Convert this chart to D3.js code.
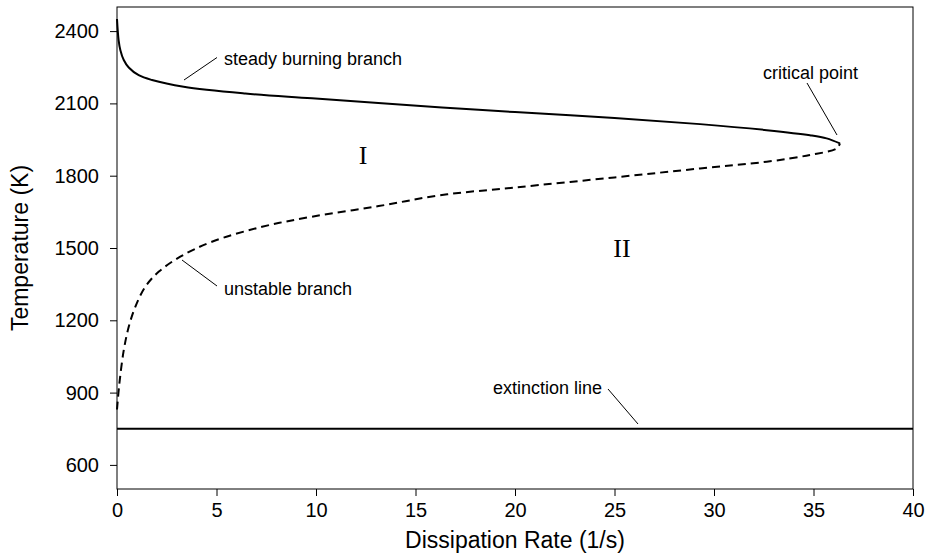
<!DOCTYPE html>
<html><head><meta charset="utf-8">
<script src="https://cdn.jsdelivr.net/npm/d3@7"></script>
<style>body{margin:0;background:#fff;}</style>
</head><body>
<svg id="chart" width="926" height="560"></svg>
<script>
// Data
const steadyX = [0, 0.08, 0.17, 0.34, 0.59, 1.09, 1.76, 3.35, 6.45, 9.8, 16.33, 20, 25, 29.3, 32.65, 34.82, 35.66, 36.33];
const steadyT = [2450, 2363, 2321, 2280, 2249, 2217, 2197, 2169, 2141, 2121, 2083, 2064, 2039, 2014, 1989, 1968, 1955, 1934];
const unstableX = [0, 0.12, 0.34, 0.59, 0.92, 1.42, 2.09, 3.18, 4.77, 7.29, 9.8, 13.15, 16.33, 20, 25, 29.3, 32.65, 34.82, 36.16, 36.33];
const unstableT = [830, 938, 1076, 1173, 1256, 1339, 1401, 1464, 1526, 1588, 1630, 1674, 1720, 1751, 1793, 1830, 1858, 1886, 1913, 1934];
const extinctionT = 750;
const xTicks = [0, 5, 10, 15, 20, 25, 30, 35, 40];
const yTicks = [600, 900, 1200, 1500, 1800, 2100, 2400];
const xDomain = [0, 40];
const yDomain = [500, 2500];

const SANS = "'Liberation Sans', Arial, sans-serif";
const SERIF = "'Liberation Serif', 'Times New Roman', serif";

const svg = d3.select("#chart");
const L = 117, R = 913, T = 7, B = 489;
const x = d3.scaleLinear().domain(xDomain).range([L, R]);
const y = d3.scaleLinear().domain(yDomain).range([B, T]);

// frame
svg.append("rect").attr("x", L).attr("y", T).attr("width", R - L).attr("height", B - T)
  .attr("fill", "none").attr("stroke", "#000").attr("stroke-width", 1);

const xAxis = svg.append("g").attr("transform", `translate(0,${B})`)
  .call(d3.axisBottom(x).tickValues(xTicks).tickSize(7).tickPadding(7).tickFormat(d3.format("d")));
const yAxis = svg.append("g").attr("transform", `translate(${L},0)`)
  .call(d3.axisLeft(y).tickValues(yTicks).tickSize(7).tickPadding(11).tickFormat(d3.format("d")));
[xAxis, yAxis].forEach(g => {
  g.attr("font-family", null).attr("font-size", null);
  g.select(".domain").remove();
  g.selectAll("text").style("font-family", SANS).style("font-size", "20px").attr("fill", "#000");
  g.selectAll("line").attr("stroke", "#000");
});

svg.append("text").attr("x", (L + R) / 2).attr("y", 548).attr("text-anchor", "middle")
  .style("font-family", SANS).style("font-size", "23px").text("Dissipation Rate (1/s)");
svg.append("text").attr("transform", `translate(28,${(T + B) / 2}) rotate(-90)`).attr("text-anchor", "middle")
  .style("font-family", SANS).style("font-size", "23px").text("Temperature (K)");

const line = d3.line().x(d => x(d[0])).y(d => y(d[1])).curve(d3.curveCatmullRom.alpha(0.5));
svg.append("path").datum(steadyX.map((v, i) => [v, steadyT[i]]))
  .attr("d", line).attr("fill", "none").attr("stroke", "#000").attr("stroke-width", 2);
svg.append("path").datum(unstableX.map((v, i) => [v, unstableT[i]]))
  .attr("d", line).attr("fill", "none").attr("stroke", "#000").attr("stroke-width", 2)
  .attr("stroke-dasharray", "8,5");
svg.append("line").attr("x1", x(xDomain[0])).attr("x2", x(xDomain[1]))
  .attr("y1", y(extinctionT)).attr("y2", y(extinctionT)).attr("stroke", "#000").attr("stroke-width", 2);

// annotations
const ann = [
  {text: "steady burning branch", tx: 224, ty: 65, l: [184, 80, 217, 57.5]},
  {text: "critical point", tx: 763, ty: 79, l: [807, 83, 837, 135]},
  {text: "unstable branch", tx: 224, ty: 295, l: [182, 260, 217, 286]},
  {text: "extinction line", tx: 493, ty: 394, l: [608, 389, 638, 424]}
];
ann.forEach(a => {
  svg.append("text").attr("x", a.tx).attr("y", a.ty).style("font-family", SANS).style("font-size", "18px").text(a.text);
  svg.append("line").attr("x1", a.l[0]).attr("y1", a.l[1]).attr("x2", a.l[2]).attr("y2", a.l[3])
    .attr("stroke", "#000").attr("stroke-width", 1);
});
svg.append("text").attr("x", 363).attr("y", 164).attr("text-anchor", "middle")
  .style("font-family", SERIF).style("font-size", "26px").text("I");
svg.append("text").attr("x", 622).attr("y", 257).attr("text-anchor", "middle")
  .style("font-family", SERIF).style("font-size", "26px").text("II");
</script>
</body></html>
